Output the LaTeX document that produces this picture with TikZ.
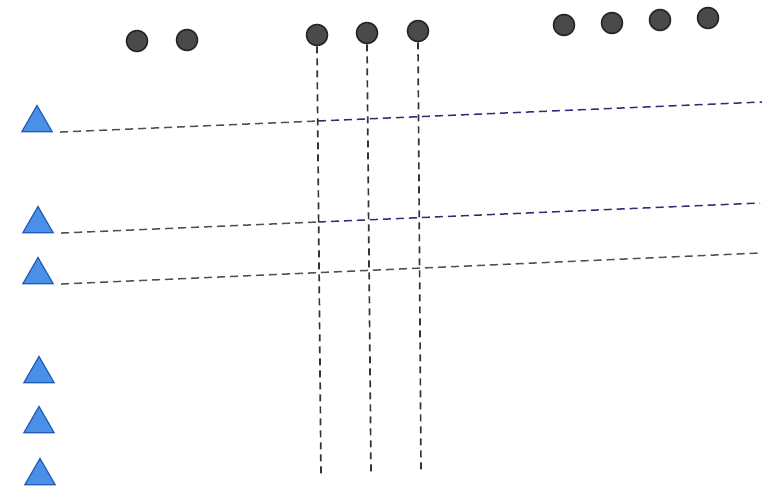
\documentclass[tikz,border=0pt]{standalone}
\usepackage{xcolor}
\usepackage{tikz}
\usetikzlibrary{shapes.geometric}

\definecolor{dotgray}{HTML}{4A4A4A}
\definecolor{triblue}{HTML}{4A90E8}
\definecolor{triedge}{HTML}{1F5CB8}
\definecolor{linegray}{HTML}{505050}
\definecolor{linenavy}{HTML}{2A2F78}

\begin{document}
\begin{tikzpicture}[
        x=1pt, y=-1pt,
        dot/.style={
            circle,
            draw=black!85,
            fill=dotgray,
            line width=1.6pt,
            minimum size=21pt,
            inner sep=0pt
        },
        tri/.style={
            regular polygon,
            regular polygon sides=3,
            draw=triedge,
            fill=triblue,
            line width=1.2pt,
            minimum size=35pt,
            inner sep=0pt
        },
        vline/.style={line width=1.7pt, color=black!80, dash pattern=on 7pt off 5pt},
        hline/.style={line width=1.5pt, color=linegray, dash pattern=on 8pt off 5pt}
    ]

        \useasboundingbox (0,0) rectangle (768,489);

        % circles along the top
        \node[dot] (c1) at (137,41) {};
        \node[dot] (c2) at (187,40) {};
        \node[dot] (c3) at (317,35) {};
        \node[dot] (c4) at (367,33) {};
        \node[dot] (c5) at (418,31) {};
        \node[dot] (c6) at (564,25) {};
        \node[dot] (c7) at (612,23) {};
        \node[dot] (c8) at (660,20) {};
        \node[dot] (c9) at (708,18) {};

        % triangles down the left side
        \node[tri] (t1) at (37,123) {};
        \node[tri] (t2) at (38,224) {};
        \node[tri] (t3) at (38,275) {};
        \node[tri] (t4) at (39,374) {};
        \node[tri] (t5) at (39,424) {};
        \node[tri] (t6) at (40,476) {};

        \coordinate (v3) at (321,477);
        \coordinate (v4) at (371,475);
        \coordinate (v5) at (421,472);

        \coordinate (m1) at (318,121);
        \coordinate (m2) at (318,222);
        \coordinate (e1) at (762,102);
        \coordinate (e2) at (760,203);
        \coordinate (e3) at (760,253);

        \draw[vline] (c3.south) -- (v3);
        \draw[vline] (c4.south) -- (v4);
        \draw[vline] (c5.south) -- (v5);

        \draw[hline, shorten <=7pt] (t1.corner 3) -- (m1);
        \draw[hline, color=linenavy] (m1) -- (e1);

        \draw[hline, shorten <=7pt] (t2.corner 3) -- (m2);
        \draw[hline, color=linenavy] (m2) -- (e2);

        \draw[hline, shorten <=7pt] (t3.corner 3) -- (e3);

    \end{tikzpicture}
\end{document}
